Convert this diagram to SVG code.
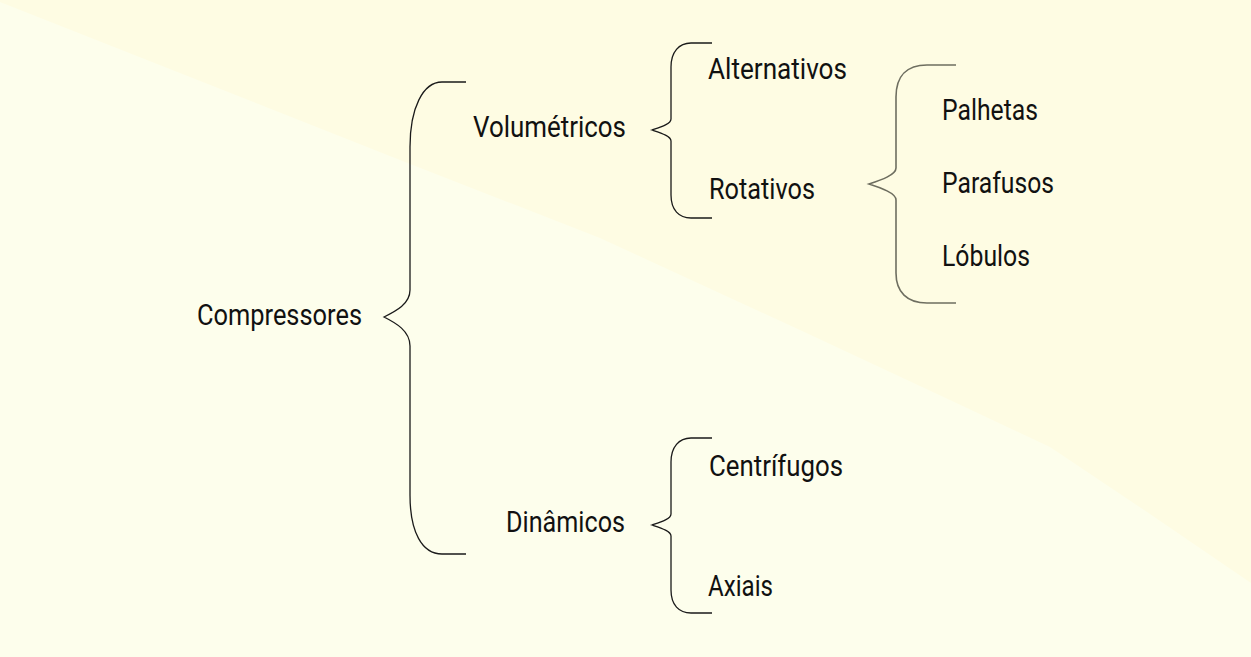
<svg xmlns="http://www.w3.org/2000/svg" width="1251" height="657" viewBox="0 0 1251 657">
  <style>
    .lbl { font-family: Roboto, "Liberation Sans", sans-serif; font-size: 30px; fill: #111111; }
    .brace { fill: none; stroke: #1a1a1a; stroke-width: 1.3; }
    .brace-g { fill: none; stroke: #6e6e60; stroke-width: 1.6; }
  </style>
  <g id="background">
    <rect x="0" y="0" width="1251" height="657" fill="#FDFEEC"/>
    <polygon points="0,2 400,160 600,238 800,330 950,400 1050,447 1150,514 1251,583 1251,0 0,0" fill="#FEFCE3"/>
  </g>
  <g id="connectors">
    <path class="brace" d="M466,82 L442,82 C423,82 410,108 410,147 L410,290 C410,304 396,311 384,317 C396,323 410,331 410,346 L410,495 C410,532 422,554 442,554 L466,554"/>
    <path class="brace" d="M712,43 L691,43 C679,43 671,52 671,67 L671,119 C671,124 661,127 652,130 C661,133 671,136 671,141 L671,195 C671,210 679,218 691,218 L712,218"/>
    <path class="brace" d="M712,438 L691,438 C679,438 671,447 671,462 L671,514 C671,519 661,522 652,525 C661,528 671,531 671,536 L671,590 C671,605 679,613 691,613 L712,613"/>
    <path class="brace-g" d="M956,65 L927,65 C907,65 896,76 896,97 L896,168 C896,175 881,180 869,184 C881,188 896,193 896,200 L896,273 C896,292 907,303 927,303 L956,303"/>
  </g>
  <g id="node-compressores"><text class="lbl" x="197" y="325" textLength="165" lengthAdjust="spacingAndGlyphs">Compressores</text></g>
  <g id="node-volumetricos"><text class="lbl" x="473" y="137" textLength="153" lengthAdjust="spacingAndGlyphs">Volumétricos</text></g>
  <g id="node-dinamicos"><text class="lbl" x="506" y="532" textLength="119" lengthAdjust="spacingAndGlyphs">Dinâmicos</text></g>
  <g id="node-alternativos"><text class="lbl" x="708" y="79" textLength="139" lengthAdjust="spacingAndGlyphs">Alternativos</text></g>
  <g id="node-rotativos"><text class="lbl" x="709" y="199" textLength="106" lengthAdjust="spacingAndGlyphs">Rotativos</text></g>
  <g id="node-palhetas"><text class="lbl" x="942" y="120" textLength="96" lengthAdjust="spacingAndGlyphs">Palhetas</text></g>
  <g id="node-parafusos"><text class="lbl" x="942" y="193" textLength="112" lengthAdjust="spacingAndGlyphs">Parafusos</text></g>
  <g id="node-lobulos"><text class="lbl" x="942" y="266" textLength="88" lengthAdjust="spacingAndGlyphs">Lóbulos</text></g>
  <g id="node-centrifugos"><text class="lbl" x="709" y="476" textLength="134" lengthAdjust="spacingAndGlyphs">Centrífugos</text></g>
  <g id="node-axiais"><text class="lbl" x="708" y="596" textLength="65" lengthAdjust="spacingAndGlyphs">Axiais</text></g>
</svg>
